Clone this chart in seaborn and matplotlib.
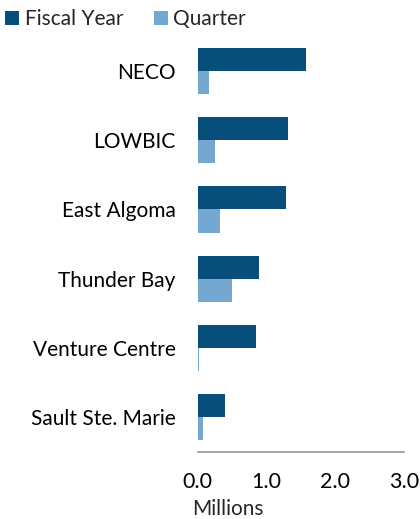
import matplotlib
matplotlib.use("Agg")
import matplotlib.pyplot as plt
import seaborn as sns
import pandas as pd
from matplotlib.lines import Line2D

categories = ["NECO", "LOWBIC", "East Algoma", "Thunder Bay", "Venture Centre", "Sault Ste. Marie"]
fiscal_year = [1.57, 1.31, 1.29, 0.89, 0.85, 0.40]
quarter = [0.17, 0.255, 0.33, 0.50, 0.018, 0.08]
series_names = ["Fiscal Year", "Quarter"]
x_ticks = [0.0, 1.0, 2.0, 3.0]
x_tick_labels = ["0.0", "1.0", "2.0", "3.0"]
x_label = "Millions"

colors = {"Fiscal Year": "#074E7B", "Quarter": "#74A8D0"}

df = pd.DataFrame({
    "category": categories * 2,
    "value": fiscal_year + quarter,
    "series": [series_names[0]] * len(categories) + [series_names[1]] * len(categories),
})

sns.set_theme(style="white")
plt.rcParams["font.family"] = ["Lato", "DejaVu Sans"]

fig = plt.figure(figsize=(4.2, 5.19), dpi=100)
ax = fig.add_axes([0.4707, 0.1297, 0.962 - 0.4707, 0.9297 - 0.1297])

sns.barplot(data=df, y="category", x="value", hue="series", order=categories,
            hue_order=series_names, palette=colors, orient="h", width=0.667,
            saturation=1, linewidth=0, ax=ax, legend=False)

ax.set_xlim(0, 3)
ax.set_ylim(5.5, -0.5)
ax.set_xticks(x_ticks)
ax.set_xticklabels(x_tick_labels)
ax.set_ylabel("")
ax.set_xlabel(x_label, fontsize=15)
ax.xaxis.set_label_coords(0.147, -0.115)

for s in ["top", "right", "left"]:
    ax.spines[s].set_visible(False)
ax.spines["bottom"].set_color("#8C8C8C")
ax.spines["bottom"].set_linewidth(1.1)

ax.tick_params(axis="x", direction="inout", length=9, width=1.1, color="#8C8C8C",
               labelsize=15.5, pad=10, labelcolor="#000000")
ax.tick_params(axis="y", length=0, labelsize=15, pad=16, labelcolor="#000000")

handles = [Line2D([0], [0], marker="s", linestyle="none", markersize=9.5,
                  markerfacecolor=colors[n], markeredgewidth=0) for n in series_names]
fig.legend(handles, series_names, loc="upper left", bbox_to_anchor=(-0.03, 1.01),
           ncol=2, frameon=False, fontsize=15, handletextpad=0.1,
           columnspacing=1.3, handlelength=1.0, borderaxespad=0.3)

fig.savefig("out.png", dpi=100)
